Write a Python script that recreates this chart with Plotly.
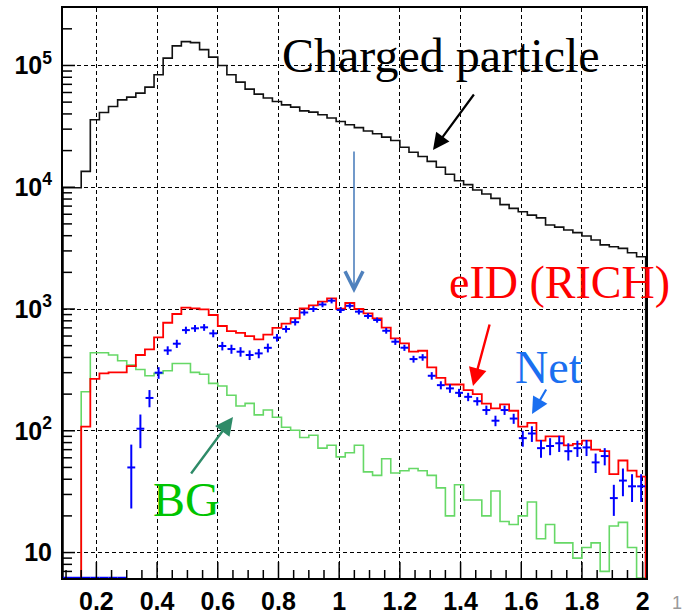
import math
import plotly.graph_objects as go

# ---------------- data (64 bins, 0.09 .. 2.01 GeV/c, width 0.03) ----------------
bin_lo = 0.09
bin_w = 0.03
n_bins = 64

charged = [9900, 9900, 13500, 35800, 41100, 46000, 52200, 55000, 59300, 66400,
           83900, 115000, 145000, 157000, 154000, 135000, 117000, 100000, 84000, 73000,
           64000, 58200, 54000, 50600, 47500, 45500, 42400, 41400, 39400, 37000,
           34700, 32600, 30900, 29000, 27500, 25800, 24200, 21300, 19400, 17900,
           16300, 14600, 12800, 11300, 10500, 9500, 8800, 8100, 7200, 6700,
           6300, 5900, 5600, 4900, 4700, 4460, 4240, 3980, 3690, 3360,
           3250, 3150, 2900, 2690]

eid = [0, 0, 108, 267, 296, 302, 302, 340, 419, 466,
       585, 771, 910, 1025, 1013, 994, 893, 725, 659, 638,
       600, 564, 615, 700, 760, 840, 1010, 1070, 1148, 1224,
       1005, 1120, 1000, 922, 839, 702, 574, 522, 446, 454,
       332, 272, 240, 240, 216, 200, 167, 153, 165, 146,
       108, 116, 83, 90, 90, 76, 78, 83, 70, 68,
       44, 57, 47, 42]

bg = [0, 0, 209, 437, 437, 419, 376, 347, 319, 283,
      296, 311, 357, 357, 302, 291, 245, 233, 196, 160,
      168, 135, 148, 129, 107, 101, 88, 92, 72, 76,
      61, 66, 76, 46, 43, 59, 45, 47, 49, 47,
      43, 34, 20, 36, 27, 27, 20, 32, 18, 17,
      20, 26, 13, 17, 12, 12, 9, 11, 12, 7,
      16.5, 17.7, 11, 0]

net = [0, 0, 0, 0, 0, 0, 0, 50, 104, 186,
       300, 457, 519, 671, 694, 707, 631, 497, 469, 446,
       419, 432, 480, 582, 685, 780, 936, 1000, 1089, 1170,
       982, 1062, 951, 876, 812, 663, 539, 481, 388, 401,
       283, 237, 223, 205, 190, 175, 148, 121, 148, 126,
       87, 95, 72, 75, 79, 68, 72, 73, 55, 62,
       28, 39, 35, 35]

net_err = [0, 0, 0, 0, 0, 0, 0, 27, 32, 30,
           33, 37, 40, 45, 45, 45, 45, 40, 40, 40,
           38, 38, 40, 42, 45, 48, 52, 55, 55, 58,
           55, 55, 50, 45, 40, 36, 32, 28, 25, 25,
           20, 18, 18, 16, 15, 14, 13, 12, 13, 12,
           13, 14, 12, 12, 12, 11, 11, 11, 10, 10,
           8, 10, 9, 9]

# tick layout: x labels 0.2, 0.4, ... 1, ... 2 ; y labels 10, 10^2 ... 10^5
x_major_ticks = [0.2, 0.4, 0.6, 0.8, 1.0, 1.2, 1.4, 1.6, 1.8, 2.0]
x_minor_ticks = [0.1, 0.15, 0.25, 0.3, 0.35, 0.45, 0.5, 0.55, 0.65, 0.7, 0.75, 0.85, 0.9, 0.95,
                 1.05, 1.1, 1.15, 1.25, 1.3, 1.35, 1.45, 1.5, 1.55, 1.65, 1.7, 1.75, 1.85, 1.9, 1.95]
y_major_ticks = [10, 100, 1000, 10000, 100000]
y_minor_mult = [2, 3, 4, 5, 6, 7, 8, 9]

# ---------------- geometry ----------------
W, H = 684, 614
L, R, T, B = 63, 646, 8, 578
x_range = [0.09, 2.011]
y_range_log = [0.791, 5.472]
floor_val = 10 ** y_range_log[0]

edges = [round(bin_lo + bin_w * i, 4) for i in range(n_bins + 1)]
centers = [round(bin_lo + bin_w * (i + 0.5), 4) for i in range(n_bins)]


def step_xy(vals):
    ys = [v if v > 0 else floor_val for v in vals]
    xs = [edges[0]] + edges
    ys = [floor_val] + ys + [floor_val]
    return xs, ys


def paper(px, py):
    return (px - L) / (R - L), (B - py) / (B - T)


def ypaper_log(v):
    return (math.log10(v) - y_range_log[0]) / (y_range_log[1] - y_range_log[0])


fig = go.Figure()

for vals, col, w in [(bg, "#66d866", 1.6), (charged, "#111111", 1.6), (eid, "#ff0000", 1.8)]:
    xs, ys = step_xy(vals)
    fig.add_trace(go.Scatter(x=xs, y=ys, mode="lines", line=dict(color=col, width=w, shape="hv"),
                             hoverinfo="skip", cliponaxis=False))

# net: zero bins drawn at frame bottom as horizontal bars
zx = [c for c, v in zip(centers, net) if v <= 0]
fig.add_trace(go.Scatter(x=zx, y=[floor_val] * len(zx), mode="markers", marker=dict(size=0.1, color="#0000ff"),
                         cliponaxis=False,
                         error_x=dict(type="constant", value=bin_w / 2, width=0, color="#0000ff", thickness=2.5)))

nx = [c for c, v in zip(centers, net) if v > 0]
ny = [v for v in net if v > 0]
ne = [e for e, v in zip(net_err, net) if v > 0]
fig.add_trace(go.Scatter(x=nx, y=ny, mode="markers", marker=dict(size=0.1, color="#0000ff"),
                         error_x=dict(type="constant", value=0.013, width=0, color="#0000ff", thickness=2),
                         error_y=dict(type="data", array=ne, width=0, color="#0000ff", thickness=2)))

# ---------------- axes ----------------
fig.update_xaxes(range=x_range, tickmode="array", tickvals=x_major_ticks,
                 showline=True, linecolor="black", linewidth=2, mirror=True,
                 ticks="", showgrid=True, gridcolor="black", gridwidth=1.2, griddash="4px,3px",
                 zeroline=False, automargin=False,
                 tickfont=dict(family="Liberation Sans", size=25, color="black", weight="bold"),
                 ticklabelstandoff=0)
fig.update_yaxes(type="log", range=y_range_log, dtick=1, exponentformat="power",
                 showline=True, linecolor="black", linewidth=2, mirror=True,
                 ticks="", showgrid=True, gridcolor="black", gridwidth=1.2, griddash="4px,3px",
                 zeroline=False, automargin=False,
                 tickfont=dict(family="Liberation Sans", size=20, color="black", weight="bold"),
                 ticklabelstandoff=5)

# tick marks drawn inside the frame (ROOT style)
shapes = []
tick_style = dict(type="line", line=dict(color="black", width=1.5), layer="above")
for xv in x_major_ticks:
    shapes.append(dict(tick_style, xref="x", yref="paper", x0=xv, x1=xv, y0=0, y1=16 / (B - T)))
for xv in x_minor_ticks:
    shapes.append(dict(tick_style, xref="x", yref="paper", x0=xv, x1=xv, y0=0, y1=8 / (B - T)))
for yv in y_major_ticks:
    yp = ypaper_log(yv)
    shapes.append(dict(tick_style, xref="paper", yref="paper", x0=0, x1=12 / (R - L), y0=yp, y1=yp))
for dec in [1, 10, 100, 1000, 10000, 100000]:
    for m in y_minor_mult:
        yp = ypaper_log(m * dec)
        if 0 < yp < 1:
            shapes.append(dict(tick_style, xref="paper", yref="paper", x0=0, x1=9 / (R - L), y0=yp, y1=yp))

# ---------------- annotations ----------------
serif = "Liberation Serif"
anns = []


def text(t, px, py, size, color):
    x, y = paper(px, py)
    anns.append(dict(text=t, x=x, y=y, xref="paper", yref="paper", xanchor="center", yanchor="middle",
                     showarrow=False, font=dict(family=serif, size=size, color=color)))


def arrow(tail, head, color, width, head_style=2, size=1.5):
    x, y = paper(*head)
    anns.append(dict(text="", x=x, y=y, xref="paper", yref="paper", ax=tail[0] - head[0], ay=tail[1] - head[1],
                     axref="pixel", ayref="pixel", showarrow=True, arrowhead=head_style, arrowsize=size,
                     arrowwidth=width, arrowcolor=color, standoff=0, startstandoff=0))


text("Charged particle", 441, 55, 48, "black")
text("eID (RICH)", 559, 283, 46, "#ff0000")
text("Net", 548, 367, 46, "#1a6ff0")
text("BG", 186, 499, 48, "#00c400")

arrow((475, 93), (433, 150), "black", 2.2)
arrow((490, 323), (473, 386), "#ff0000", 2.4)
arrow((547, 388), (532, 414), "#1a6ff0", 2.2)
arrow((190, 475), (233, 417), "#2e8b68", 2.4)
arrow((354, 150), (354, 293), "#4f81bd", 1.6, head_style=5, size=2.2)

px1, py1 = paper(677, 603)
anns.append(dict(text="1", x=px1, y=py1, xref="paper", yref="paper", xanchor="center", yanchor="middle",
                 showarrow=False, font=dict(family="Liberation Sans", size=18, color="#9a9a9a")))

fig.update_layout(width=W, height=H, margin=dict(l=L, r=W - R, t=T, b=H - B),
                  paper_bgcolor="white", plot_bgcolor="white", showlegend=False,
                  annotations=anns, shapes=shapes)

fig.write_html("out.html")
